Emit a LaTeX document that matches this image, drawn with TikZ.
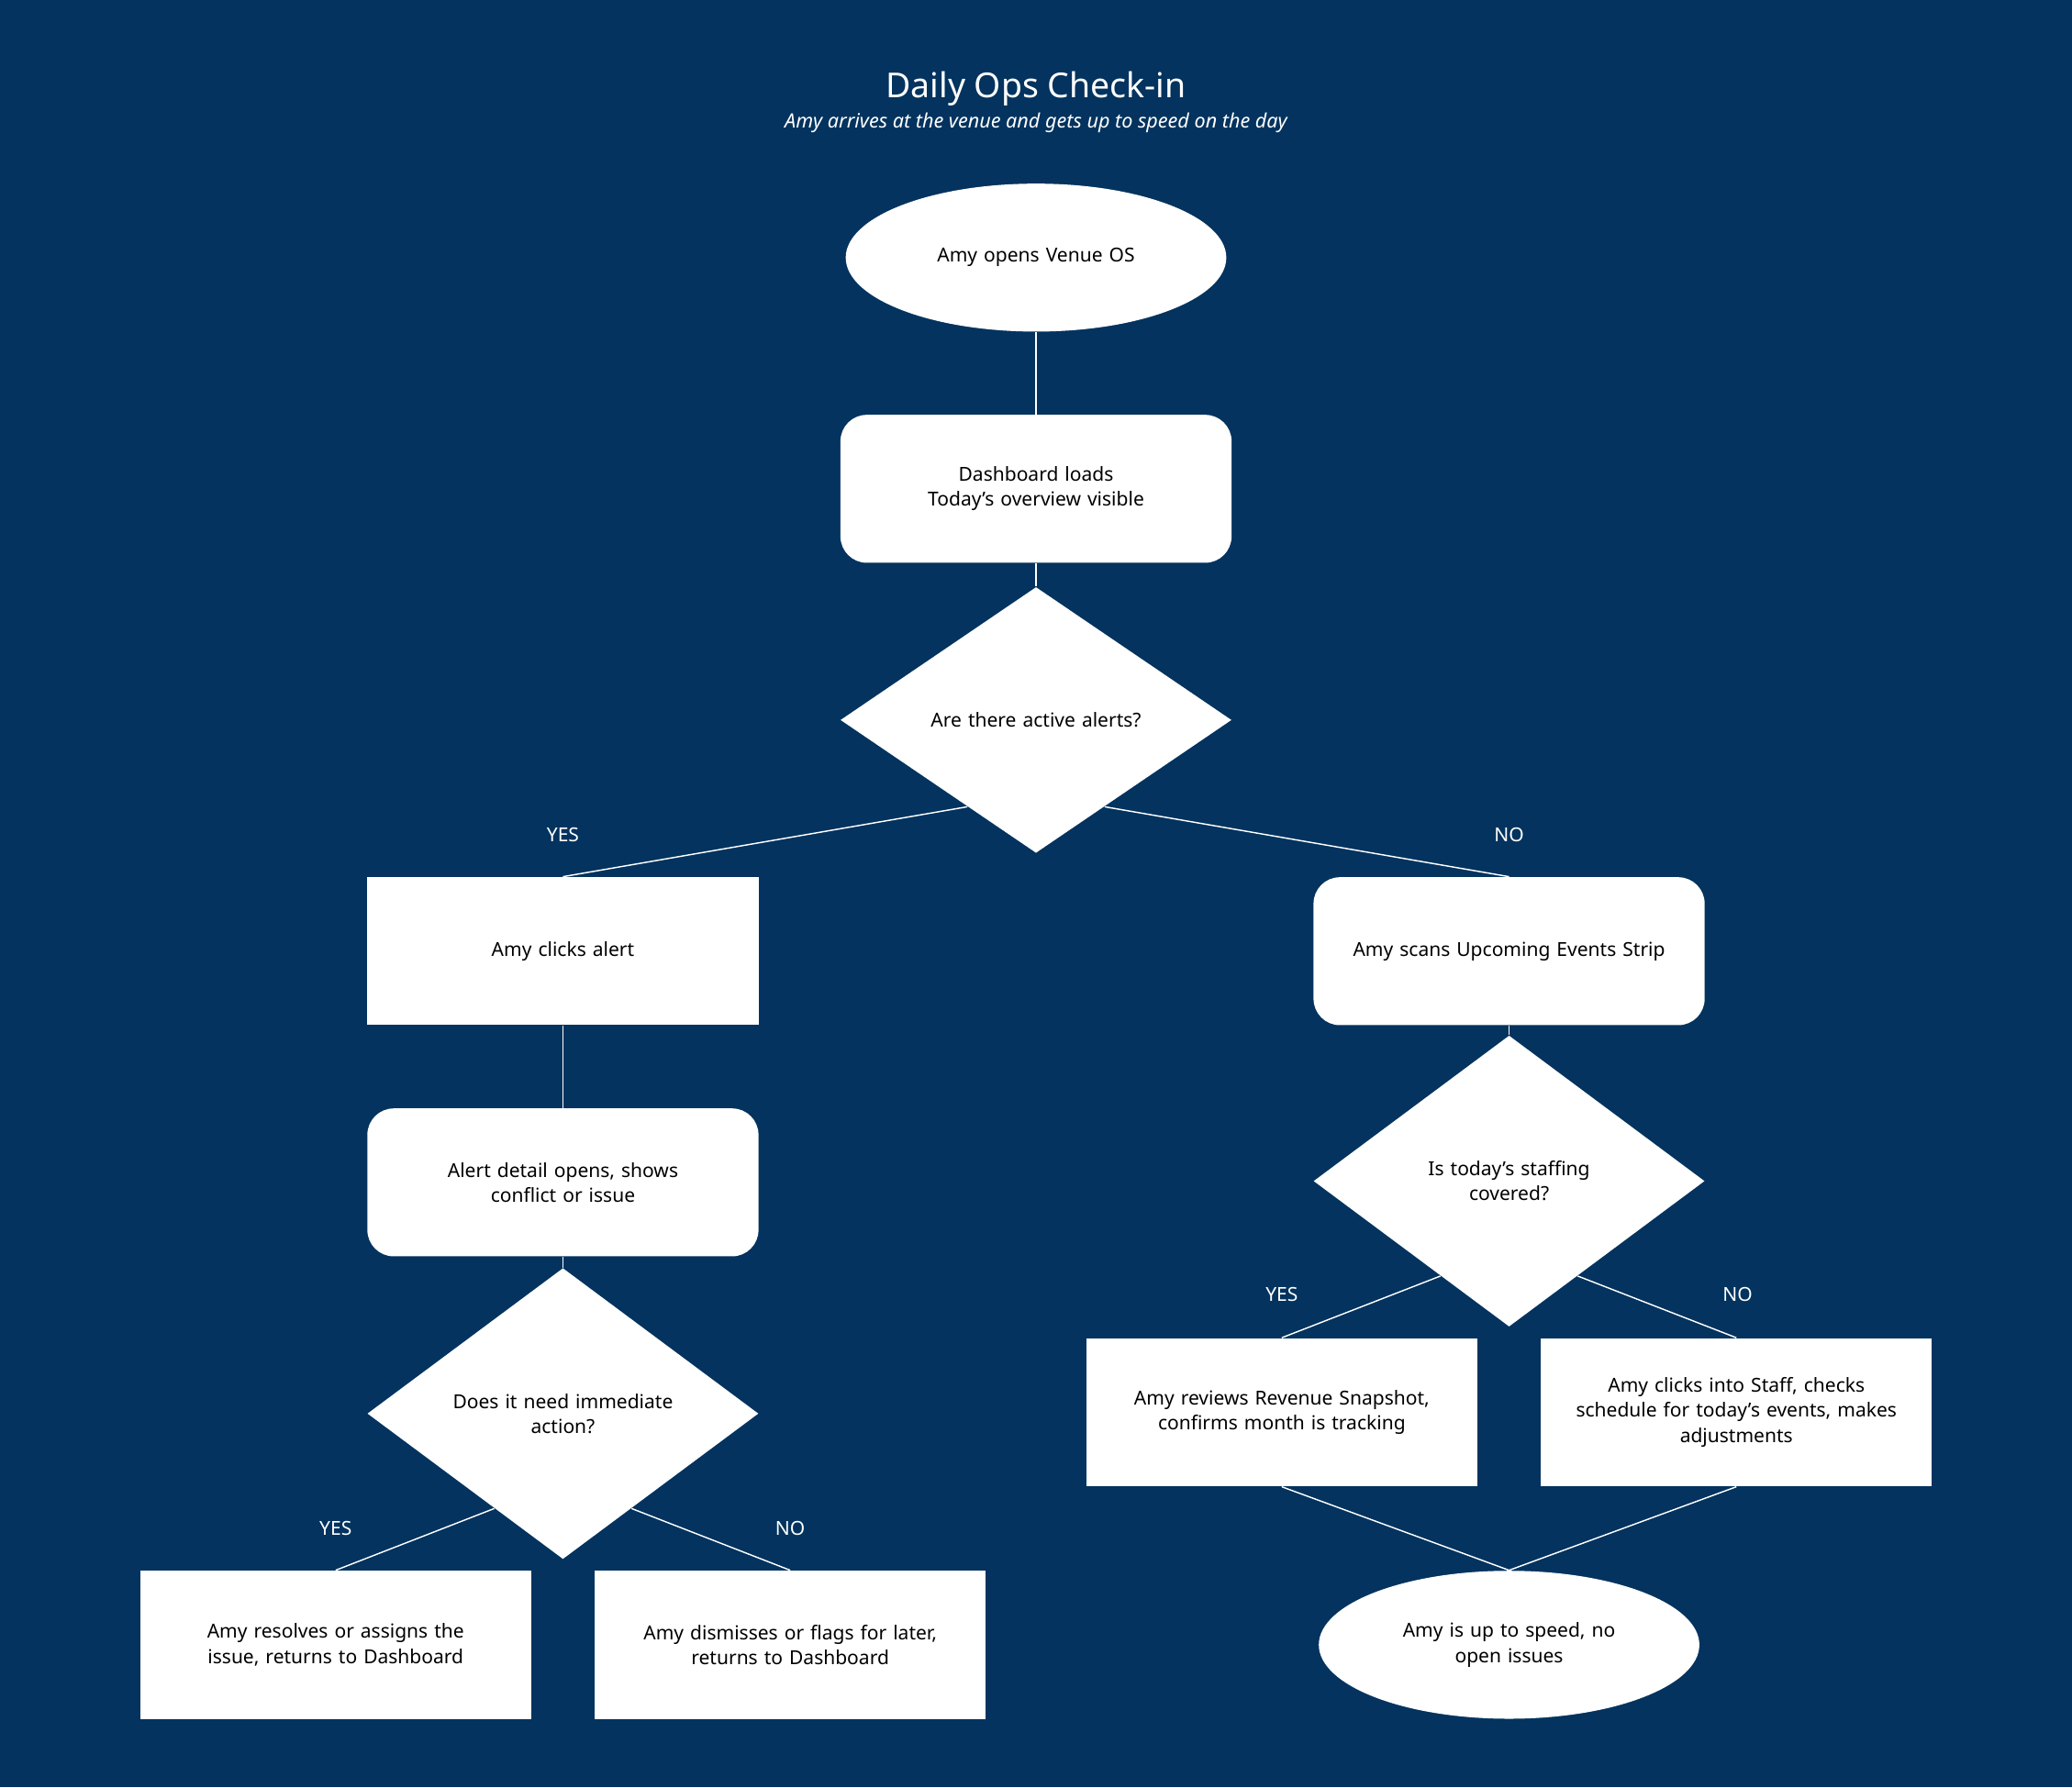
\documentclass[tikz,border=0pt]{standalone}
\usepackage{fontspec}
\setmainfont{Noto Sans}
\usetikzlibrary{shapes.geometric,calc}
\definecolor{bg}{HTML}{03335E}
\begin{document}
\begin{tikzpicture}[x=0.5pt,y=-0.5pt,
  every node/.style={font=\fontsize{7.3}{9.5}\selectfont, text=black, align=center},
  box/.style={fill=white, minimum width=148pt, minimum height=56pt, inner sep=2pt, text width=140pt},
  rbox/.style={box, rounded corners=10pt},
  ell/.style={ellipse, fill=white, minimum width=144pt, minimum height=56pt, inner sep=0pt, text width=100pt, font=\fontsize{7.3}{9.5}\selectfont\bfseries},
  dia/.style={diamond, fill=white, minimum width=148pt, minimum height=56pt, inner sep=0pt, text width=95pt},
  lab/.style={text=white, font=\fontsize{7.3}{9}\selectfont\bfseries},
  ln/.style={draw=white, line width=0.5pt}]
\fill[bg] (0,0) rectangle (1568,1353);
\useasboundingbox (0,0) rectangle (1568,1353);
\node[text=white, font=\fontsize{13}{15}\selectfont\bfseries] (title) at (784,67) {Daily Ops Check-in};
\node[text=white, font=\fontsize{7.5}{9}\selectfont\itshape] (sub) at (784,93) {Amy arrives at the venue and gets up to speed on the day};
\node[ell] (start) at (784,195) {Amy opens Venue OS};
\node[rbox] (dash) at (784,370) {Dashboard loads\\Today’s overview visible};
\node[dia] (alerts) at (784,545) {Are there active alerts?};
\node[box] (click) at (426,720) {Amy clicks alert};
\node[rbox] (scan) at (1142,720) {Amy scans Upcoming Events Strip};
\node[rbox] (detail) at (426,895) {Alert detail opens, shows\\conflict or issue};
\node[dia] (imm) at (426,1070) {Does it need immediate\\action?};
\node[box] (res) at (254,1245) {Amy resolves or assigns the\\issue, returns to Dashboard};
\node[box] (dis) at (598,1245) {Amy dismisses or flags for later,\\returns to Dashboard};
\node[dia] (staff) at (1142,894) {Is today's staffing\\covered?};
\node[box] (rev) at (970,1069) {Amy reviews Revenue Snapshot,\\confirms month is tracking};
\node[box] (stf) at (1314,1069) {Amy clicks into Staff, checks\\schedule for today's events, makes\\adjustments};
\node[ell] (end) at (1142,1245) {Amy is up to speed, no\\open issues};
\draw[ln] (start) -- (dash);
\draw[ln] (dash) -- (alerts);
\draw[ln] ($(alerts.south)!0.35!(alerts.west)$) -- (click.north);
\draw[ln] ($(alerts.south)!0.35!(alerts.east)$) -- (scan.north);
\draw[ln] (click) -- (detail);
\draw[ln] (detail) -- (imm);
\draw[ln] ($(imm.south)!0.35!(imm.west)$) -- (res.north);
\draw[ln] ($(imm.south)!0.35!(imm.east)$) -- (dis.north);
\draw[ln] (scan) -- (staff);
\draw[ln] ($(staff.south)!0.35!(staff.west)$) -- (rev.north);
\draw[ln] ($(staff.south)!0.35!(staff.east)$) -- (stf.north);
\draw[ln] (rev.south) -- (end.north);
\draw[ln] (stf.south) -- (end.north);
\node[lab] (l1) at (426,632) {YES};
\node[lab] (l2) at (1142,632) {NO};
\node[lab] (l3) at (970,980) {YES};
\node[lab] (l4) at (1315,980) {NO};
\node[lab] (l5) at (254,1157) {YES};
\node[lab] (l6) at (598,1157) {NO};
\end{tikzpicture}
\end{document}
